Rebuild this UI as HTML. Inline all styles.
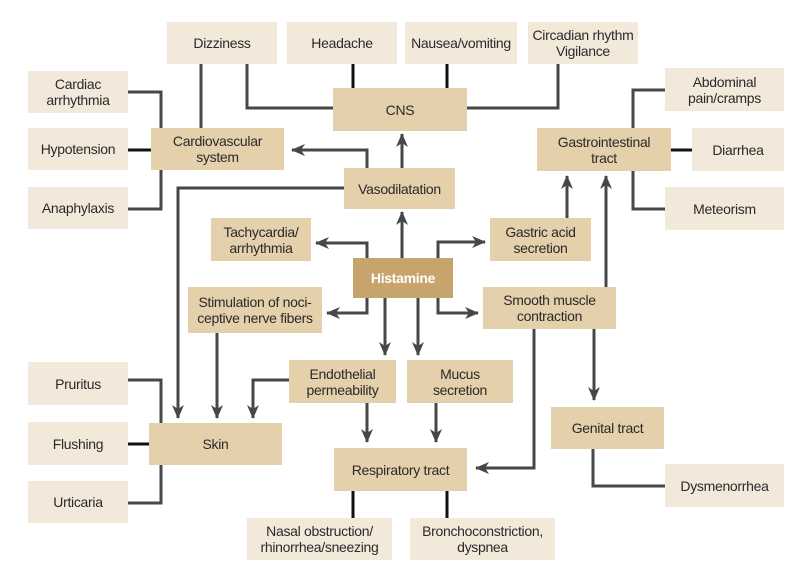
<!DOCTYPE html>
<html><head><meta charset="utf-8"><style>
body{margin:0;background:#fff;}
#c{position:relative;width:810px;height:580px;overflow:hidden;font-family:"Liberation Sans",sans-serif;}
.b{position:absolute;display:flex;align-items:center;justify-content:center;text-align:center;font-size:14px;line-height:16px;color:#2a2a2a;box-sizing:border-box;letter-spacing:-0.3px;}
.l{background:#f3e9da;}
.m{background:#e4d0aa;}
.h{background:#c6a46c;color:#fff;font-weight:bold;}
svg{position:absolute;left:0;top:0;}
</style></head><body><div id="c">
<svg width="810" height="580">
<defs><marker id="a" markerWidth="14" markerHeight="12" refX="13" refY="6" orient="auto" markerUnits="userSpaceOnUse"><path d="M0,0L14,6L0,12L4,6z" fill="#47464b"/></marker></defs>
<g stroke="#47464b" stroke-width="3" fill="none">
<path d="M201 64V128"/><path d="M247 64V108H333"/><path d="M353 64V88" stroke="#111"/><path d="M447 64V88" stroke="#111"/><path d="M558 64V108H467"/>
<path d="M128 92H161V128"/><path d="M128 150H151" stroke="#111"/><path d="M128 209H161V170"/>
<path d="M367 168V150H292" marker-end="url(#a)"/>
<path d="M402 168V134" marker-end="url(#a)"/>
<path d="M402 258V212" marker-end="url(#a)"/>
<path d="M344 188H178V418" marker-end="url(#a)"/>
<path d="M367 258V243H316" marker-end="url(#a)"/>
<path d="M438 258V242H485" marker-end="url(#a)"/>
<path d="M567 218V176" marker-end="url(#a)"/>
<path d="M606 287V176" marker-end="url(#a)"/>
<path d="M633 128V90H665"/><path d="M671 150H692" stroke="#111"/><path d="M633 171V209H665"/>
<path d="M367 298V313H327" marker-end="url(#a)"/>
<path d="M385 298V355" marker-end="url(#a)"/>
<path d="M418 298V355" marker-end="url(#a)"/>
<path d="M438 298V313H478" marker-end="url(#a)"/>
<path d="M217 333V418" marker-end="url(#a)"/>
<path d="M289 380H253V418" marker-end="url(#a)"/>
<path d="M367 403V442" marker-end="url(#a)"/>
<path d="M436 403V442" marker-end="url(#a)"/>
<path d="M534 329V468H476" marker-end="url(#a)"/>
<path d="M594 329V400" marker-end="url(#a)"/>
<path d="M593 449V486H665"/>
<path d="M128 380H161V423"/><path d="M128 444H149" stroke="#111"/><path d="M128 503H161V465"/>
<path d="M353 491V518" stroke="#111"/><path d="M447 491V518" stroke="#111"/>
</g></svg>
<div class="b l" style="left:167px;top:22px;width:110px;height:42px">Dizziness</div>
<div class="b l" style="left:287px;top:22px;width:110px;height:42px">Headache</div>
<div class="b l" style="left:405px;top:22px;width:112px;height:42px">Nausea/vomiting</div>
<div class="b l" style="left:528px;top:22px;width:110px;height:42px">Circadian rhythm<br>Vigilance</div>
<div class="b m" style="left:333px;top:88px;width:134px;height:43px">CNS</div>
<div class="b l" style="left:28px;top:71px;width:100px;height:42px">Cardiac<br>arrhythmia</div>
<div class="b l" style="left:28px;top:128px;width:100px;height:42px">Hypotension</div>
<div class="b l" style="left:28px;top:187px;width:100px;height:42px">Anaphylaxis</div>
<div class="b m" style="left:151px;top:128px;width:133px;height:42px">Cardiovascular<br>system</div>
<div class="b m" style="left:344px;top:168px;width:111px;height:41px">Vasodilatation</div>
<div class="b m" style="left:211px;top:218px;width:100px;height:43px">Tachycardia/<br>arrhythmia</div>
<div class="b h" style="left:353px;top:258px;width:100px;height:40px">Histamine</div>
<div class="b m" style="left:490px;top:218px;width:101px;height:43px">Gastric acid<br>secretion</div>
<div class="b m" style="left:537px;top:128px;width:134px;height:43px">Gastrointestinal<br>tract</div>
<div class="b l" style="left:665px;top:68px;width:119px;height:43px">Abdominal<br>pain/cramps</div>
<div class="b l" style="left:692px;top:128px;width:92px;height:43px">Diarrhea</div>
<div class="b l" style="left:665px;top:187px;width:119px;height:43px">Meteorism</div>
<div class="b m" style="left:188px;top:287px;width:134px;height:46px">Stimulation of noci-<br>ceptive nerve fibers</div>
<div class="b m" style="left:483px;top:287px;width:133px;height:42px">Smooth muscle<br>contraction</div>
<div class="b m" style="left:289px;top:360px;width:107px;height:43px">Endothelial<br>permeability</div>
<div class="b m" style="left:407px;top:360px;width:106px;height:43px">Mucus<br>secretion</div>
<div class="b l" style="left:28px;top:362px;width:100px;height:43px">Pruritus</div>
<div class="b l" style="left:28px;top:422px;width:100px;height:43px">Flushing</div>
<div class="b l" style="left:28px;top:481px;width:100px;height:42px">Urticaria</div>
<div class="b m" style="left:149px;top:423px;width:133px;height:42px">Skin</div>
<div class="b m" style="left:334px;top:448px;width:133px;height:43px">Respiratory tract</div>
<div class="b m" style="left:551px;top:407px;width:113px;height:42px">Genital tract</div>
<div class="b l" style="left:665px;top:464px;width:119px;height:43px">Dysmenorrhea</div>
<div class="b l" style="left:247px;top:518px;width:145px;height:42px">Nasal obstruction/<br>rhinorrhea/sneezing</div>
<div class="b l" style="left:410px;top:518px;width:145px;height:42px">Bronchoconstriction,<br>dyspnea</div>
</div></body></html>
